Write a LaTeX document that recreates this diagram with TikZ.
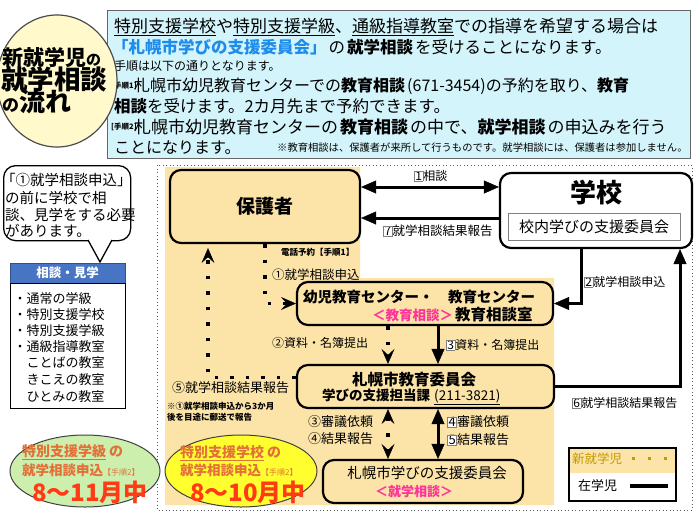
\documentclass[tikz,border=0pt]{standalone}
\usepackage{fontspec}
\setmainfont{Noto Sans CJK JP}
\usetikzlibrary{arrows.meta,shapes.geometric}
\definecolor{boxcyan}{HTML}{D4F4FB}
\definecolor{beige}{HTML}{FCE4A9}
\definecolor{circfill}{HTML}{FFF9CC}
\definecolor{hdrblue}{HTML}{4874C4}
\definecolor{pinkt}{HTML}{FF3399}
\definecolor{bluet}{HTML}{1E8CEB}
\definecolor{oranget}{HTML}{E27038}
\definecolor{redt}{HTML}{FF3A14}
\definecolor{greenfill}{HTML}{CDEFAE}
\definecolor{yellowfill}{HTML}{FFFF30}
\definecolor{goldt}{HTML}{C49A00}
\newcommand\fs[1]{\fontsize{#1}{#1}\selectfont}
\newcommand\bnum[1]{{\setlength{\fboxsep}{0.4pt}\setlength{\fboxrule}{0.6pt}\fcolorbox{gray}{white}{\makebox[0.6em]{#1}}}}
\begin{document}
\begin{tikzpicture}[x=1pt,y=-1pt,
  txt/.style={inner sep=0pt, anchor=west},
  ctx/.style={inner sep=0pt},
  fbox/.style={draw, line width=2.2pt, rounded corners=11pt, inner sep=0pt},
  solidln/.style={line width=3pt},
  dotln/.style={line width=3.5pt, dash pattern=on 3.5pt off 12pt},
  hd/.tip={Triangle[length=15pt,width=13pt,line width=0.4pt]},
  dd/.tip={Stealth[length=15pt,width=13pt,inset=6pt,line width=0.4pt]},
]
\useasboundingbox (0,0) rectangle (700,525);
\fill[white] (0,0) rectangle (700,525);

% beige region and outer dotted border
\fill[beige] (165,167) -- (360,167) -- (360,278) -- (554,278) -- (554,505) -- (165,505) -- cycle;
\draw[gray!70!black, line width=1pt, dash pattern=on 1pt off 2.5pt] (157,165) rectangle (692,510);

% top explanation box
\node[draw=gray!80!black, line width=1pt, fill=boxcyan, minimum width=583, minimum height=148, anchor=north west, inner sep=0pt] (topbox) at (107,10) {};
\node[txt] (t1) at (114,27) {\fs{17}\underline{特別支援学校}や\underline{特別支援学級}、\underline{通級指導教室}での指導を希望する場合は};
\node[txt] (t2) at (112,47) {\fs{16.5}{\color{bluet}\textbf{「札幌市学びの支援委員会」}}\hspace{2pt}の\hspace{2pt}\textbf{就学相談}\hspace{2pt}を受けることになります。};
\node[txt] (t3) at (114,66) {\fs{12}手順は以下の通りとなります。};
\node[txt] (s1) at (111,86) {\fs{7.5}\textbf{[手順1]}};
\node[txt] (t4) at (134,86) {\fs{16}札幌市幼児教育センターでの\textbf{教育相談}\hspace{2pt}(671-3454)の予約を取り、\textbf{教育}};
\node[txt] (t5) at (114,106) {\fs{16.5}\textbf{相談}を受けます。2カ月先まで予約できます。};
\node[txt] (s2) at (111,127) {\fs{7.5}\textbf{[手順2]}};
\node[txt] (t6) at (134,127) {\fs{17}札幌市幼児教育センターの\hspace{2pt}\textbf{教育相談}\hspace{2pt}の中で、\textbf{就学相談}\hspace{2pt}の申込みを行う};
\node[txt] (t7) at (114,148) {\fs{16}ことになります。};
\node[txt] (t8) at (277,148) {\fs{10.3}※教育相談は、保護者が来所して行うものです。就学相談には、保護者は参加しません。};

% title circle
\node[ellipse, draw=gray!60!black, line width=1.2pt, fill=circfill, minimum width=120, minimum height=132, inner sep=0pt] (circ) at (57,81) {};
\node[txt] (c1) at (2,58) {{\fs{21}\textbf{新就学児}}{\fs{15}\textbf{の}}};
\node[txt] (c2) at (1,79) {\fs{26.5}\textbf{就学相談}};
\node[txt] (c3) at (2,102) {{\fs{17}\textbf{の}}{\fs{26}\textbf{流れ}}};

% callout
\node[draw, line width=1.3pt, rounded corners=12pt, minimum width=127, minimum height=75, anchor=north west, fill=white, inner sep=0pt] (callout) at (3,165) {};
\fill[white] (89,237) rectangle (111,242);
\draw[line width=1.3pt] (88,240) -- (100,262) -- (112,240);
\node[txt] (b1) at (1,180) {\fs{14.5}「①就学相談申込」};
\node[txt] (b2) at (5,198) {\fs{14.5}の前に学校で相};
\node[txt] (b3) at (5,215) {\fs{14.5}談、見学をする必要};
\node[txt] (b4) at (5,231) {\fs{14.5}があります。};

% list
\node[draw=hdrblue!70!black, fill=hdrblue, minimum width=115, minimum height=20, inner sep=0pt, text=white] (hdr) at (67.5,273) {\fs{12.5}\textbf{相談・見学}};
\node[draw, line width=1pt, minimum width=115, minimum height=125, anchor=north west, inner sep=0pt] (lst) at (10,283) {};
\node[txt] (l1) at (13.5,299) {\fs{13}・通常の学級};
\node[txt] (l2) at (13.5,315) {\fs{13}・特別支援学校};
\node[txt] (l3) at (13.5,331) {\fs{13}・特別支援学級};
\node[txt] (l4) at (13.5,347) {\fs{13}・通級指導教室};
\node[txt] (l5) at (26.5,363) {\fs{13}ことばの教室};
\node[txt] (l6) at (26.5,380) {\fs{13}きこえの教室};
\node[txt] (l7) at (26.5,397) {\fs{13}ひとみの教室};

% ellipses
\node[ellipse, draw=gray!50!black, line width=1pt, fill=greenfill, minimum width=150, minimum height=72, inner sep=0pt] (ge) at (85,471) {};
\node[txt, text=oranget] (g1) at (22,452) {\fs{14}\textbf{\underline{特別支援学級}\hspace{3pt}の}};
\node[txt, text=oranget] (g2) at (22,470) {\fs{13.5}\textbf{就学相談申込}{\fs{8}【手順2】}};
\node[ctx, text=redt] (g3) at (90,492) {\fs{24}\textbf{8～11月中}};
\node[ellipse, draw=gray!50!black, line width=1pt, fill=yellowfill, minimum width=152, minimum height=72, inner sep=0pt] (ye) at (241,471) {};
\node[txt, text=oranget] (y1) at (180,453) {\fs{14}\textbf{\underline{特別支援学校}\hspace{3pt}の}};
\node[txt, text=oranget] (y2) at (180,470) {\fs{13.5}\textbf{就学相談申込}{\fs{8}【手順2】}};
\node[ctx, text=redt] (y3) at (248,492) {\fs{24}\textbf{8～10月中}};

% main boxes
\node[fbox, fill=beige, minimum width=190, minimum height=73] (hogosha) at (265,206.5) {\fs{19}\textbf{保護者}};
\node[fbox, fill=white, minimum width=192, minimum height=75] (gakko) at (596,210.5) {};
\node[ctx] (gk) at (596,193) {\fs{26}\textbf{学校}};
\node[draw=gray, line width=0.8pt, fill=white, minimum width=172, minimum height=27, inner sep=0pt] (gkin) at (594,227) {\fs{15}校内学びの支援委員会};
\node[fbox, fill=beige, minimum width=256, minimum height=43] (kyoiku) at (425,303.5) {};
\node[txt] (k1) at (303,297) {\fs{14.5}\textbf{幼児教育センター・　教育センター}};
\node[txt] (k2) at (372,315) {{\color{pinkt}\fs{13.5}\textbf{＜教育相談＞}}\hspace{2pt}{\fs{15.5}\textbf{教育相談室}}};
\node[fbox, fill=beige, minimum width=257, minimum height=43] (iinkai) at (425.5,386.5) {};
\node[ctx] (i1) at (414,380) {\fs{15.5}\textbf{札幌市教育委員会}};
\node[txt] (i2) at (322,397) {\fs{13.5}\textbf{学びの支援担当課}\hspace{4pt}\underline{(211-3821)}};
\node[fbox, fill=beige, minimum width=200, minimum height=43] (shien) at (423,481.5) {};
\node[ctx] (sh1) at (427,473) {\fs{14.5}札幌市学びの支援委員会};
\node[ctx, text=pinkt] (sh2) at (414,492) {\fs{13}\textbf{＜就学相談＞}};

% legend
\fill[beige] (568,447) rectangle (675,473);
\node[draw, line width=1.5pt, minimum width=107, minimum height=53, anchor=north west, inner sep=0pt] (lg) at (568,447) {};
\node[txt, text=goldt] (lg1) at (572,459) {\fs{12.5}新就学児};
\coordinate (lgd1) at (632,458);
\coordinate (lgd2) at (672,458);
\draw[goldt, line width=3pt, dash pattern=on 3pt off 13pt] (lgd1) -- (lgd2);
\node[txt] (lg2) at (578,486) {\fs{13}在学児};
\coordinate (lgs1) at (630,486);
\coordinate (lgs2) at (668,486);
\draw[line width=3.5pt] (lgs1) -- (lgs2);

% helper coordinates
\coordinate (r1) at (0,187);
\coordinate (r7) at (0,218);
\coordinate (c1d) at (265,0);
\coordinate (c5d) at (208,0);
\coordinate (c2) at (581,0);
\coordinate (c6) at (680,0);
\coordinate (c3) at (438,0);
\coordinate (c2d) at (388,0);

% solid connectors
\draw[solidln, hd-hd] (hogosha.east |- r1) -- (gakko.west |- r1);
\draw[solidln, -hd] (gakko.west |- r7) -- (hogosha.east |- r7);
\draw[solidln, -hd] (gakko.south -| c2) |- (kyoiku.east);
\draw[solidln, -hd] (iinkai.east) -| (gakko.south -| c6);
\draw[solidln, -hd] (kyoiku.south -| c3) -- (iinkai.north -| c3);
\draw[solidln, hd-hd] (iinkai.south -| c3) -- (shien.north -| c3);

% dotted connectors
\draw[dotln, -dd] (hogosha.south -| c1d) |- (kyoiku.west);
\draw[dotln, -dd, shorten >=4pt] ([yshift=9pt]iinkai.west) -| (hogosha.south -| c5d);
\draw[dotln, -dd] (kyoiku.south -| c2d) -- (iinkai.north -| c2d);
\draw[dotln, dd-dd] (iinkai.south -| c2d) -- (shien.north -| c2d);

% connector labels
\node[txt] (lb1) at (414,176) {\fs{12}\bnum{1}相談};
\node[txt] (lb7) at (383,231) {\fs{12.5}\bnum{7}就学相談結果報告};
\node[txt] (lbtel) at (281,252) {\fs{8.5}\textbf{電話予約【手順1】}};
\node[txt] (lbc1) at (272,275) {\fs{12.5}①就学相談申込};
\node[txt] (lbc2) at (272,343) {\fs{12}②資料・名簿提出};
\node[txt] (lb3) at (446,345) {\fs{12}\bnum{3}資料・名簿提出};
\node[txt] (lb2) at (584,282) {\fs{12}\bnum{2}就学相談申込};
\node[txt] (lb6) at (572,403) {\fs{12}\bnum{6}就学相談結果報告};
\node[txt] (lbc5) at (172,388) {\fs{13}⑤就学相談結果報告};
\node[txt] (n1) at (167,406) {\fs{8.5}\textbf{※①就学相談申込から3か月}};
\node[txt] (n2) at (167,417) {\fs{8.5}\textbf{後を目途に郵送で報告}};
\node[txt] (lbc3) at (308,422) {\fs{13}③審議依頼};
\node[txt] (lbc4) at (308,439) {\fs{13}④結果報告};
\node[txt] (lb4) at (447,422) {\fs{13}\bnum{4}審議依頼};
\node[txt] (lb5) at (447,440) {\fs{13}\bnum{5}結果報告};
\end{tikzpicture}
\end{document}
